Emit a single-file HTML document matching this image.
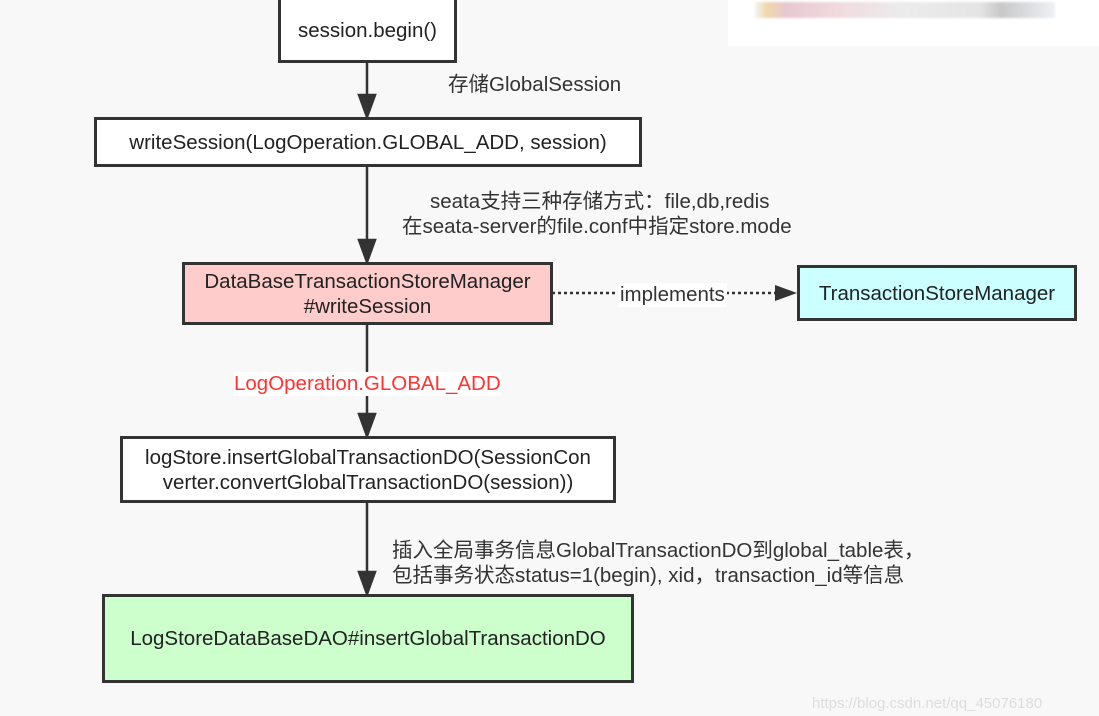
<!DOCTYPE html>
<html><head><meta charset="utf-8"><style>
body{margin:0;width:1099px;height:710px;background:#f8f8f8;position:relative;overflow:hidden;font-family:"Liberation Sans","Noto Sans CJK SC",sans-serif;color:#222}
.b{position:absolute;border:3px solid #333;box-sizing:border-box;display:flex;align-items:center;justify-content:center;text-align:center;font-size:20.5px;line-height:25px;background:#fff}
.t{position:absolute;font-size:20.5px;line-height:24px;color:#333;white-space:nowrap}
</style></head><body>
<div style="position:absolute;left:728px;top:0;width:371px;height:46px;background:#fff"></div>
<div style="position:absolute;left:755px;top:2px;width:300px;height:16px;background:linear-gradient(90deg,#f4f4f4,#f0d8a8 4%,#e8c8d0 10%,#f0dde0 30%,#ececec 50%,#e4e4e4 75%,#c8c8c8 82%,#eef2f6);filter:blur(1px)"></div>
<svg width="1099" height="710" style="position:absolute;left:0;top:0">
<g stroke="#333" stroke-width="2.5" fill="none">
<line x1="367" y1="62" x2="367" y2="100"/><path d="M359,95 L367,117 L375,95 z" fill="#333"/>
<line x1="367" y1="166" x2="367" y2="245"/><path d="M359,240 L367,262 L375,240 z" fill="#333"/>
<line x1="367" y1="324" x2="367" y2="418"/><path d="M359,414 L367,436 L375,414 z" fill="#333"/>
<line x1="367" y1="502" x2="367" y2="576"/><path d="M359,572 L367,594 L375,572 z" fill="#333"/>
<line x1="552" y1="293" x2="780" y2="293" stroke-dasharray="3,3"/><path d="M775,285 L797,293 L775,301 z" fill="#333" stroke="none"/>
</g></svg>
<div class="b" style="left:278px;top:-3px;width:179px;height:66px">session.begin()</div>
<div class="b" style="left:94px;top:117px;width:548px;height:50px">writeSession(LogOperation.GLOBAL_ADD, session)</div>
<div class="b" style="left:182px;top:262px;width:371px;height:63px;background:#ffcccc">DataBaseTransactionStoreManager<br>#writeSession</div>
<div class="b" style="left:797px;top:265px;width:280px;height:56px;background:#ccffff">TransactionStoreManager</div>
<div class="b" style="left:120px;top:436px;width:496px;height:67px">logStore.insertGlobalTransactionDO(SessionCon<br>verter.convertGlobalTransactionDO(session))</div>
<div class="b" style="left:102px;top:594px;width:532px;height:89px;background:#ccffcc">LogStoreDataBaseDAO#insertGlobalTransactionDO</div>
<div class="t" style="left:448px;top:73px">存储GlobalSession</div>
<div class="t" style="left:430px;top:190px">seata支持三种存储方式：file,db,redis</div>
<div class="t" style="left:402px;top:215px">在seata-server的file.conf中指定store.mode</div>
<div class="t" style="left:618px;top:283px;background:#fff;padding:0 2px">implements</div>
<div class="t" style="left:234px;top:372px;color:#ff3333;background:#fff">LogOperation.GLOBAL_ADD</div>
<div class="t" style="left:392px;top:539px">插入全局事务信息GlobalTransactionDO到global_table表，</div>
<div class="t" style="left:392px;top:564px">包括事务状态status=1(begin), xid，transaction_id等信息</div>
<div class="t" style="left:812px;top:692px;color:#ddd;font-size:15px">https://blog.csdn.net/qq_45076180</div>
</body></html>
